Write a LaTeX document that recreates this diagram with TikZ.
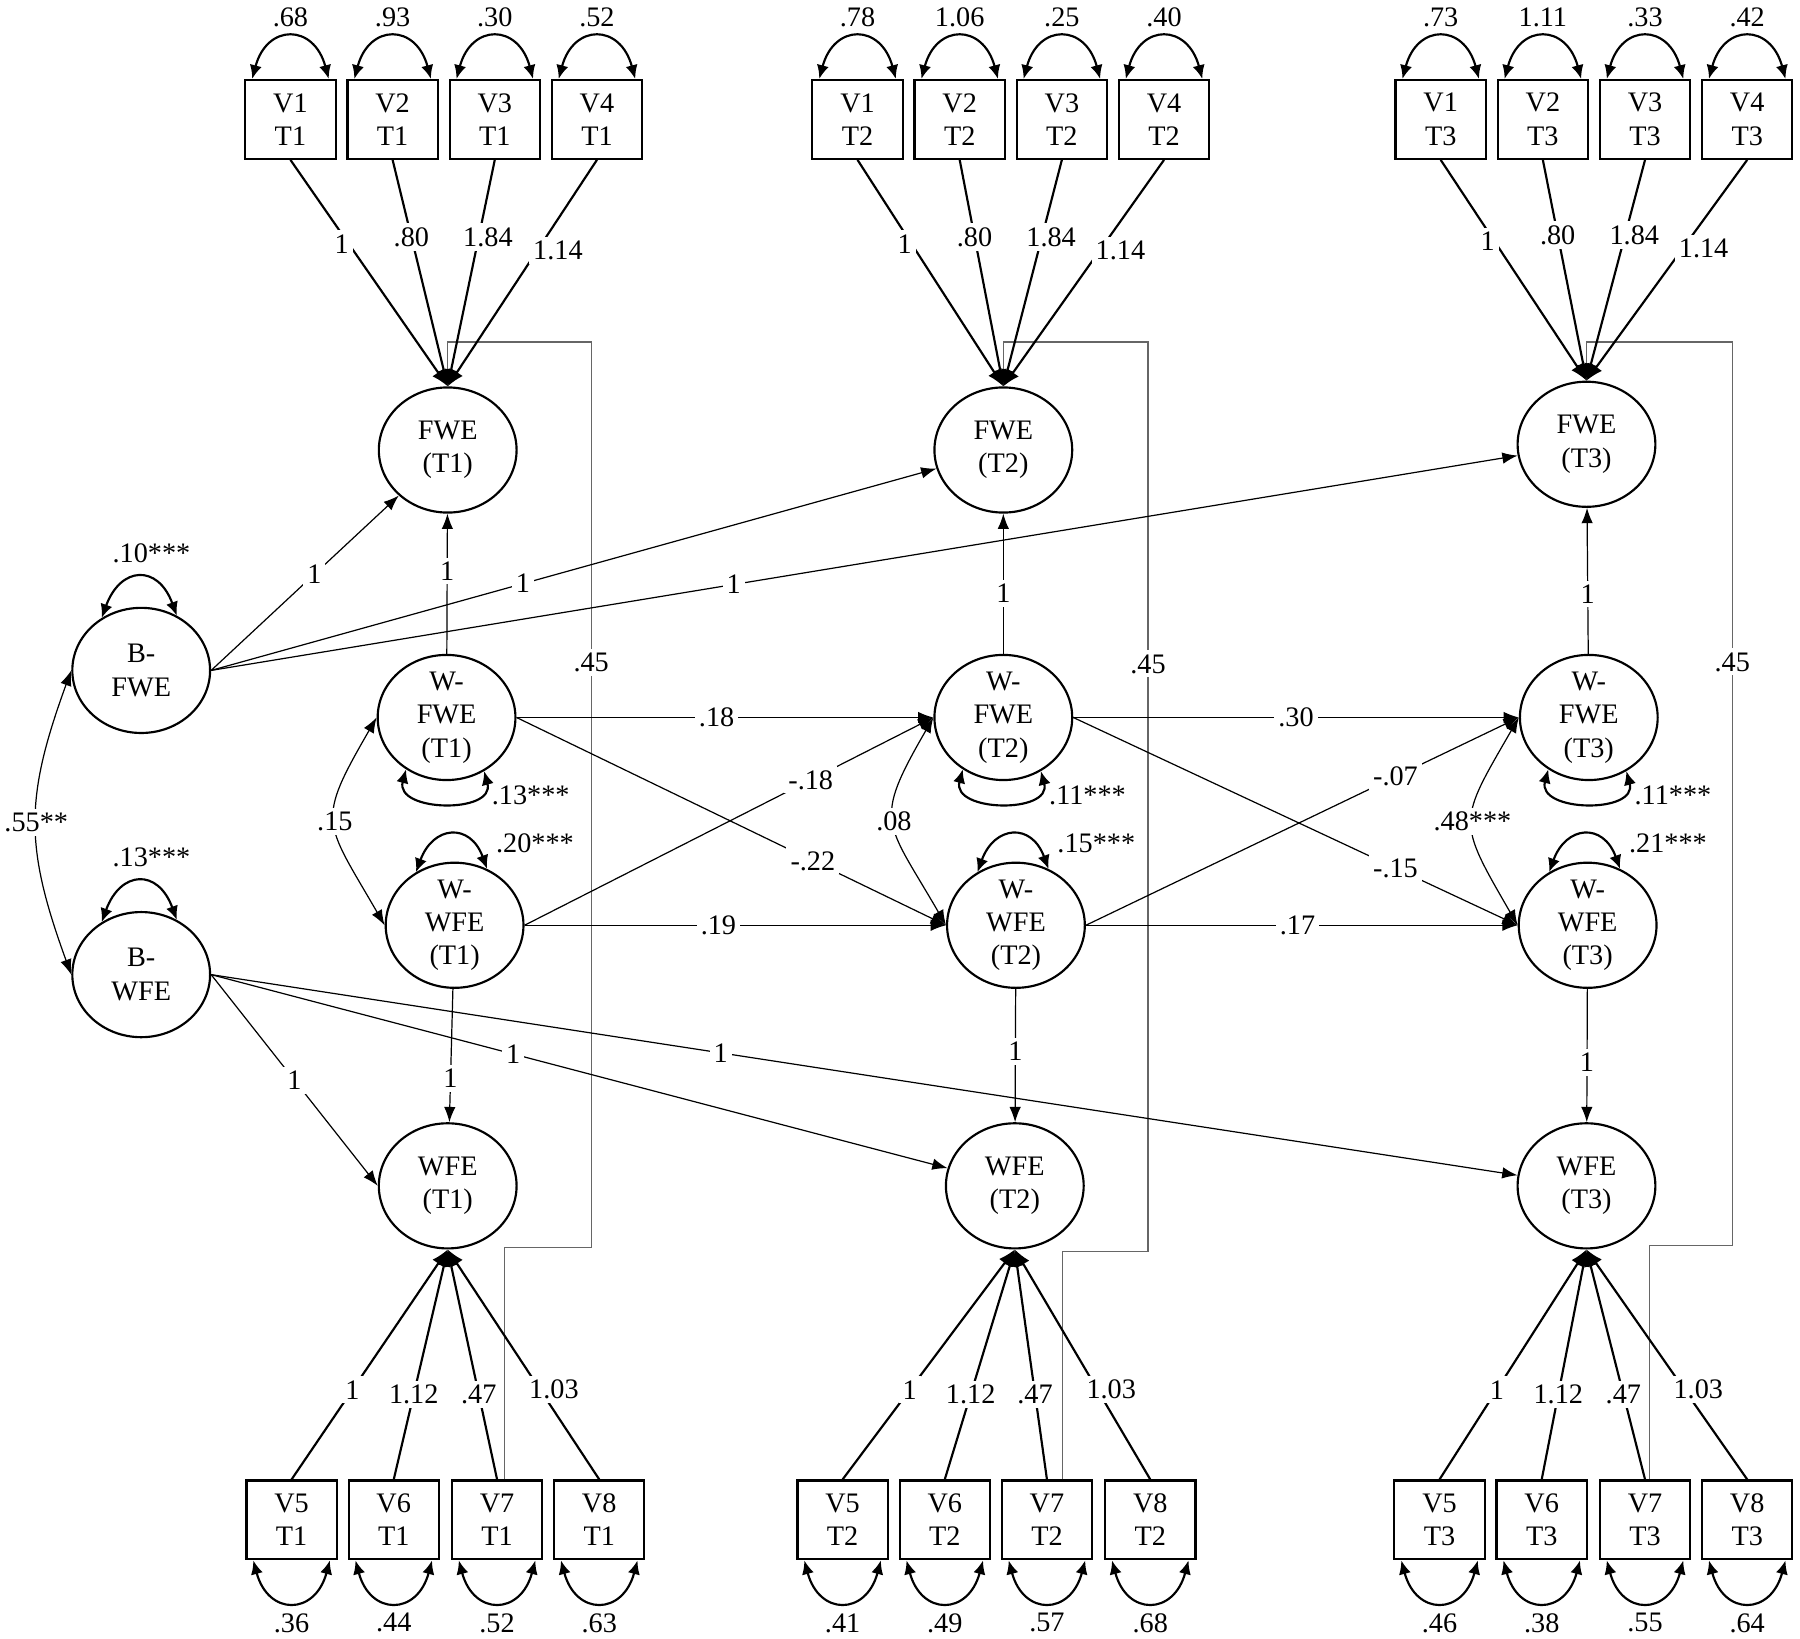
\documentclass[tikz,border=0pt]{standalone}
\usepackage{fontspec}
\setmainfont{Liberation Serif}
\usetikzlibrary{positioning,arrows.meta,shapes.geometric}

\tikzset{
  lat/.style={draw,ellipse,line width=0.8pt,minimum width=1.8cm,minimum height=1.635cm,inner sep=-6pt,align=center},
  obs/.style={draw,line width=0.8pt,minimum width=1.18cm,minimum height=1.03cm,inner sep=0pt,align=center},
  lbl/.style={fill=white,inner sep=1.5pt},
  load/.style={line width=0.8pt,-{Latex[length=2.2mm,width=1.8mm]}},
  reg/.style={line width=0.45pt,-{Latex[length=2mm,width=1.5mm]}},
  cov/.style={line width=0.45pt,{Latex[length=2mm,width=1.5mm]}-{Latex[length=2mm,width=1.5mm]}},
  var/.style={line width=0.8pt,{Latex[length=1.8mm,width=1.6mm]}-{Latex[length=1.8mm,width=1.6mm]}},
  rcor/.style={line width=0.45pt,draw=black!60},
}

\begin{document}
\begin{tikzpicture}[x=0.015cm,y=0.015cm,font=\fontsize{10.5}{12.4}\selectfont]
        \useasboundingbox (0,0) rectangle (1568,-1427);

        \node[lat] (fwe1) at (390,-392) {FWE\\(T1)};
        \node[lat] (fwe2) at (874,-392) {FWE\\(T2)};
        \node[lat] (fwe3) at (1382,-387) {FWE\\(T3)};
        \node[lat] (wfwe1) at (389,-625) {W-\\FWE\\(T1)};
        \node[lat] (wfwe2) at (874,-625) {W-\\FWE\\(T2)};
        \node[lat] (wfwe3) at (1384,-625) {W-\\FWE\\(T3)};
        \node[lat] (wwfe1) at (396,-806) {W-\\WFE\\(T1)};
        \node[lat] (wwfe2) at (885,-806) {W-\\WFE\\(T2)};
        \node[lat] (wwfe3) at (1383,-806) {W-\\WFE\\(T3)};
        \node[lat] (wfe1) at (390,-1033) {WFE\\(T1)};
        \node[lat] (wfe2) at (884,-1033) {WFE\\(T2)};
        \node[lat] (wfe3) at (1382,-1033) {WFE\\(T3)};
        \node[lat] (bfwe) at (123,-584) {B-\\FWE};
        \node[lat] (bwfe) at (123,-849) {B-\\WFE};

        \foreach \i/\t/\x/\e in {1/1/253/.68,2/1/342/.93,3/1/431/.30,4/1/520/.52,
                                 1/2/747/.78,2/2/836/1.06,3/2/925/.25,4/2/1014/.40,
                                 1/3/1255/.73,2/3/1344/1.11,3/3/1433/.33,4/3/1522/.42}{
            \node[obs] (ind\i\t) at (\x,-104) {V\i\\T\t};
            \draw[var] ([xshift=-0.5cm]ind\i\t.north) .. controls +(75:0.75cm) and +(105:0.75cm) .. node[above=0pt]{\e} ([xshift=0.5cm]ind\i\t.north);
        }
        \foreach \i/\t/\x/\e in {5/1/254/.36,6/1/343/.44,7/1/433/.52,8/1/522/.63,
                                 5/2/734/.41,6/2/823/.49,7/2/912/.57,8/2/1002/.68,
                                 5/3/1254/.46,6/3/1343/.38,7/3/1433/.55,8/3/1522/.64}{
            \node[obs] (ind\i\t) at (\x,-1324) {V\i\\T\t};
            \draw[var] ([xshift=-0.5cm]ind\i\t.south) .. controls +(-75:0.75cm) and +(-105:0.75cm) .. node[below=0.5pt]{\e} ([xshift=0.5cm]ind\i\t.south);
        }

        \foreach \t/\dx/\xr/\yb in {1/0.1/515/1087,2/0.2/1000/1090,3/0.06/1509/1085}
            \draw[rcor] ([xshift=\dx cm]ind7\t.north) |- (\xr,-\yb) -- node[lbl,pos=0.646]{.45} (\xr,-298) -| (fwe\t.north);

        \foreach \t in {1,2,3}{
            \foreach \i/\w/\p/\s in {1/1/.37/-0.09,2/.80/.34/0,3/1.84/.34/0.12,4/1.14/.40/0.27}
                \draw[load] (ind\i\t.south) -- node[lbl,pos=\p,xshift=\s cm]{\w} (fwe\t.north);
            \foreach \i/\w/\p/\s in {5/1/.39/0,6/1.12/.37/0,7/.47/.37/0,8/1.03/.39/0.18}
                \draw[load] (ind\i\t.north) -- node[lbl,pos=\p,xshift=\s cm]{\w} (wfe\t.south);
        }

        \draw[reg] (bfwe.east) -- node[lbl,pos=.55]{1} (fwe1);
        \draw[reg] (bfwe.east) -- node[lbl,pos=.43]{1} (fwe2);
        \draw[reg] (bfwe.east) -- node[lbl,pos=.4]{1} (fwe3);
        \draw[reg] (bwfe.east) -- node[lbl,pos=.5]{1} (wfe1.west);
        \draw[reg] (bwfe.east) -- node[lbl,pos=.41]{1} (wfe2);
        \draw[reg] (bwfe.east) -- node[lbl,pos=.39]{1} (wfe3);

        \foreach \t/\pa/\pb in {1/.59/.67,2/.43/.47,3/.41/.55}{
            \draw[reg] (wfwe\t) -- node[lbl,pos=\pa]{1} (fwe\t);
            \draw[reg] (wwfe\t) -- node[lbl,pos=\pb]{1} (wfe\t);
        }

        \draw[reg] (wfwe1.east) -- node[lbl,pos=.48]{.18} (wfwe2.west);
        \draw[reg] (wwfe1.east) -- node[lbl,pos=.46]{.19} (wwfe2.west);
        \draw[reg] (wfwe1.east) -- node[lbl,pos=.69]{-.22} (wwfe2.west);
        \draw[reg] (wwfe1.east) -- node[lbl,pos=.70]{-.18} (wfwe2.west);
        \draw[reg] (wfwe2.east) -- node[lbl,pos=.5]{.30} (wfwe3.west);
        \draw[reg] (wwfe2.east) -- node[lbl,pos=.49]{.17} (wwfe3.west);
        \draw[reg] (wfwe2.east) -- node[lbl,pos=.725]{-.15} (wwfe3.west);
        \draw[reg] (wwfe2.east) -- node[lbl,pos=.715]{-.07} (wfwe3.west);

        \draw[cov] (bfwe.west) to[out=250,in=110,looseness=1.15] node[lbl]{.55**} (bwfe.west);
        \foreach \t/\c in {1/.15,2/.08,3/.48***}
            \draw[cov] (wfwe\t.west) to[out=240,in=120,looseness=1.5] node[lbl]{\c} (wwfe\t.west);

        \draw[var] (bfwe.127) .. controls +(70:0.72cm) and +(110:0.72cm) .. node[above=2pt,xshift=0.16cm]{.10***} (bfwe.57);
        \draw[var] (bwfe.127) .. controls +(70:0.72cm) and +(110:0.72cm) .. node[above=2pt,xshift=0.16cm]{.13***} (bwfe.57);
        \foreach \t/\a/\b in {1/.13/.20,2/.11/.15,3/.11/.21}{
            \draw[var] (wfwe\t.232) .. controls +(-105:0.58cm) and +(-75:0.58cm) .. (wfwe\t.305);
            \draw[var] (wwfe\t.126) .. controls +(70:0.65cm) and +(110:0.65cm) .. (wwfe\t.60);
            \node (ea\t) at ([xshift=1.1cm,yshift=-1.02cm]wfwe\t) {\a***};
            \node (eb\t) at ([xshift=1.05cm,yshift=1.07cm]wwfe\t) {\b***};
        }
    \end{tikzpicture}
\end{document}
